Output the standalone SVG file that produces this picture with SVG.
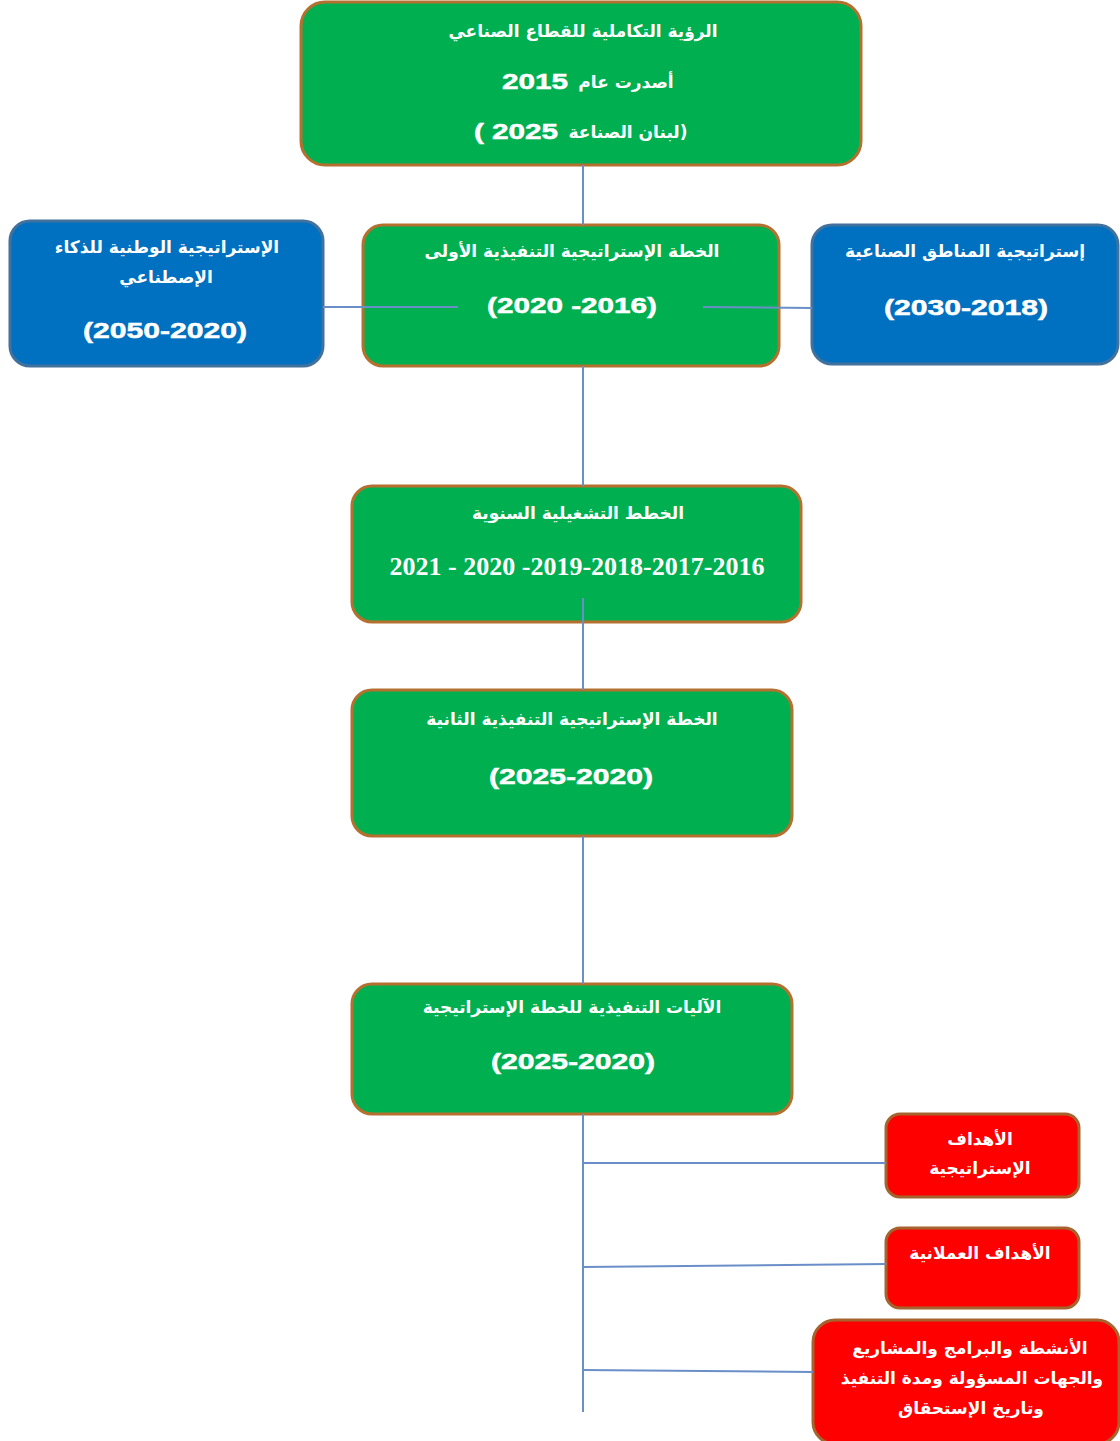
<svg xmlns="http://www.w3.org/2000/svg" width="1120" height="1441" viewBox="0 0 1120 1441">
  <style>
    .green { fill: #00b050; stroke: #b5702f; stroke-width: 3; }
    .blue { fill: #0070c0; stroke: #41719c; stroke-width: 3; }
    .red { fill: #ff0000; stroke: #a5642e; stroke-width: 3; }
    .ar { font-family: "DejaVu Sans", "Noto Sans", sans-serif; font-weight: bold; font-size: 17px; fill: #ffffff; text-anchor: middle; direction: rtl; }
    .num { font-family: "Liberation Sans", Arial, sans-serif; font-weight: bold; font-size: 22px; fill: #ffffff; stroke: #ffffff; stroke-width: 0.5; text-anchor: middle; }
    .serif { font-family: "Liberation Serif", "Times New Roman", serif; font-weight: bold; fill: #ffffff; text-anchor: middle; }
    .link { stroke: #6a8fc8; stroke-width: 2; fill: none; }
  </style>
  <rect width="1120" height="1441" fill="#ffffff"/>

  <!-- nodes -->
  <g id="vision">
    <rect class="green" x="301" y="2" width="560" height="163" rx="24"/>
    <text class="ar" x="583" y="37">الرؤية التكاملية للقطاع الصناعي</text>
    <text class="ar" x="626" y="88">أصدرت عام</text>
    <text class="num" transform="translate(535 89) scale(1.35 1)">2015</text>
    <text class="ar" x="628" y="138">(لبنان الصناعة</text>
    <text class="num" transform="translate(516 139) scale(1.35 1)">( 2025</text>
  </g>

  <g id="ai-strategy">
    <rect class="blue" x="10" y="221" width="313" height="145" rx="20"/>
    <text class="ar" x="167" y="253">الإستراتيجية الوطنية للذكاء</text>
    <text class="ar" x="166" y="283">الإصطناعي</text>
    <text class="num" transform="translate(165 338) scale(1.37 1)">(2050-2020)</text>
  </g>

  <g id="first-plan">
    <rect class="green" x="363" y="225" width="416" height="141" rx="20"/>
    <text class="ar" x="572" y="257">الخطة الإستراتيجية التنفيذية الأولى</text>
    <text class="num" transform="translate(572 313) scale(1.35 1)">(2020 -2016)</text>
  </g>

  <g id="zones-strategy">
    <rect class="blue" x="812" y="225" width="306" height="139" rx="20"/>
    <text class="ar" x="965" y="257">إستراتيجية المناطق الصناعية</text>
    <text class="num" transform="translate(966 315) scale(1.37 1)">(2030-2018)</text>
  </g>

  <g id="annual-plans">
    <rect class="green" x="352" y="486" width="449" height="136" rx="20"/>
    <text class="ar" x="578" y="519">الخطط التشغيلية السنوية</text>
    <text class="serif" x="577" y="575" font-size="26">2021 - 2020 -2019-2018-2017-2016</text>
  </g>

  <g id="second-plan">
    <rect class="green" x="352" y="690" width="440" height="146" rx="20"/>
    <text class="ar" x="572" y="725">الخطة الإستراتيجية التنفيذية الثانية</text>
    <text class="num" transform="translate(571 784) scale(1.37 1)">(2025-2020)</text>
  </g>

  <g id="mechanisms">
    <rect class="green" x="352" y="984" width="440" height="130" rx="20"/>
    <text class="ar" x="572" y="1013">الآليات التنفيذية للخطة الإستراتيجية</text>
    <text class="num" transform="translate(573 1069) scale(1.37 1)">(2025-2020)</text>
  </g>

  <g id="strategic-goals">
    <rect class="red" x="886" y="1114" width="193" height="83" rx="14"/>
    <text class="ar" x="980" y="1145">الأهداف</text>
    <text class="ar" x="980" y="1174">الإستراتيجية</text>
  </g>

  <g id="operational-goals">
    <rect class="red" x="886" y="1228" width="193" height="80" rx="14"/>
    <text class="ar" x="980" y="1259">الأهداف العملانية</text>
  </g>

  <g id="activities">
    <rect class="red" x="813" y="1320" width="306" height="124" rx="22"/>
    <text class="ar" x="970" y="1354">الأنشطة والبرامج والمشاريع</text>
    <text class="ar" x="972" y="1384">والجهات المسؤولة ومدة التنفيذ</text>
    <text class="ar" x="971" y="1414">وتاريخ الإستحقاق</text>
  </g>

  <!-- connectors -->
  <g id="connectors">
    <line class="link" x1="583" y1="165" x2="583" y2="225"/>
    <line class="link" x1="583" y1="366" x2="583" y2="486"/>
    <line class="link" x1="583" y1="598" x2="583" y2="690"/>
    <line class="link" x1="583" y1="836" x2="583" y2="984"/>
    <line class="link" x1="583" y1="1114" x2="583" y2="1412"/>
    <line class="link" x1="323" y1="307" x2="458" y2="307"/>
    <line class="link" x1="703" y1="307" x2="812" y2="308"/>
    <line class="link" x1="583" y1="1163" x2="886" y2="1163"/>
    <line class="link" x1="583" y1="1267" x2="886" y2="1264"/>
    <line class="link" x1="583" y1="1370" x2="813" y2="1372"/>
  </g>
</svg>
